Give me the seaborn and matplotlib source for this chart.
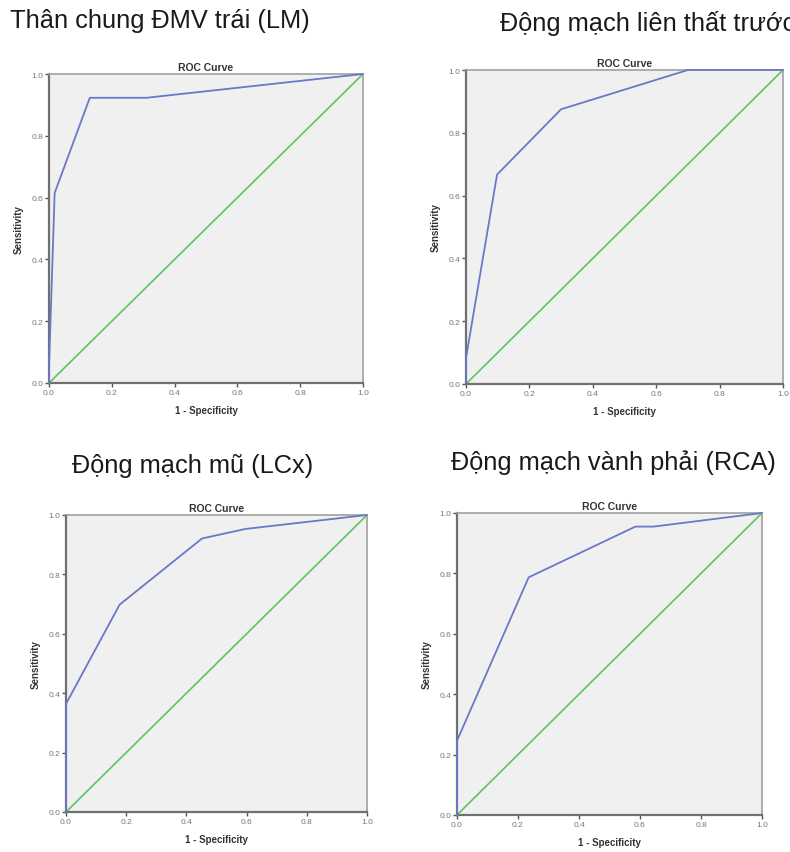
import matplotlib
matplotlib.use("Agg")
import matplotlib.pyplot as plt
import seaborn as sns
import pandas as pd

sns.set_theme(style="white")
plt.rcParams['font.family'] = ['Liberation Sans', 'DejaVu Sans']

panel_titles = ["Thân chung ĐMV trái (LM)", "Động mạch liên thất trước",
                "Động mạch mũ (LCx)", "Động mạch vành phải (RCA)"]

lm_fpr = [0.0, 0.0, 0.018, 0.13, 0.31, 1.0]
lm_tpr = [0.0, 0.05, 0.615, 0.923, 0.923, 1.0]

lad_fpr = [0.0, 0.0, 0.098, 0.30, 0.70, 1.0]
lad_tpr = [0.0, 0.083, 0.667, 0.875, 1.0, 1.0]

lcx_fpr = [0.0, 0.0, 0.178, 0.452, 0.596, 1.0]
lcx_tpr = [0.0, 0.364, 0.698, 0.921, 0.953, 1.0]

rca_fpr = [0.0, 0.0, 0.235, 0.585, 0.645, 1.0]
rca_tpr = [0.0, 0.246, 0.787, 0.955, 0.955, 1.0]

ref_line = [0.0, 1.0]
ticks = [0.0, 0.2, 0.4, 0.6, 0.8, 1.0]
tick_labels = ["0.0", "0.2", "0.4", "0.6", "0.8", "1.0"]

curves = [(lm_fpr, lm_tpr), (lad_fpr, lad_tpr), (lcx_fpr, lcx_tpr), (rca_fpr, rca_tpr)]

W, H = 790, 853
fig = plt.figure(figsize=(W / 100, H / 100), dpi=100)

# axes boxes in pixels: left, top, right, bottom
boxes = [(49, 75, 363, 384), (466, 71, 783, 385), (66, 516, 367, 813), (457, 514, 762, 816)]
# panel title positions (x left, y center)
title_pos = [(10, 21, 'left'), (500, 24, 'left'), (72, 466, 'left'), (451, 463, 'left')]

blue = "#6a78c8"
green = "#5cc65c"

for i, ((l, t, r, b), (fx, ty)) in enumerate(zip(boxes, curves)):
    ax = fig.add_axes([l / W, 1 - b / H, (r - l) / W, (b - t) / H])
    ax.set_facecolor("#f0f0f0")
    df = pd.DataFrame({"fpr": fx, "tpr": ty})
    sns.lineplot(data=df, x="fpr", y="tpr", ax=ax, color=blue, lw=1.3,
                 sort=False, estimator=None, zorder=5, clip_on=False)
    ref = pd.DataFrame({"x": ref_line, "y": ref_line})
    sns.lineplot(data=ref, x="x", y="y", ax=ax, color=green, lw=1.2,
                 estimator=None)
    ax.set_xlim(0, 1)
    ax.set_ylim(0, 1)
    ax.set_xticks(ticks)
    ax.set_yticks(ticks)
    ax.set_xticklabels(tick_labels)
    ax.set_yticklabels(tick_labels)
    ax.tick_params(axis='both', which='both', length=3, width=1, direction='out',
                   labelsize=6, colors="#555555", pad=1, labelcolor="#777777")
    ax.tick_params(bottom=True, left=True)
    for s in ['left', 'bottom']:
        ax.spines[s].set_color("#707070")
        ax.spines[s].set_linewidth(1.6)
    for s in ['top', 'right']:
        ax.spines[s].set_color("#a0a0a0")
        ax.spines[s].set_linewidth(1.2)
    ax.set_xlabel("1 - Specificity", fontsize=7, fontweight='bold', color="#333333", labelpad=7)
    ax.set_ylabel("Sensitivity", fontsize=7, fontweight='bold', color="#333333", labelpad=6)
    ax.set_title("ROC Curve", fontsize=7.5, fontweight='bold', color="#333333", pad=3)
    tx, tyy, ha = title_pos[i]
    fig.text(tx / W, 1 - tyy / H, panel_titles[i], fontsize=18.3, color="#1a1a1a",
             ha=ha, va='center')

fig.savefig("out.png", dpi=100)
